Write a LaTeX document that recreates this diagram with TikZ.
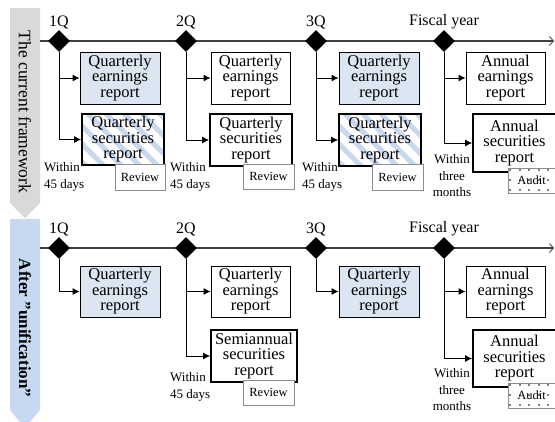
\documentclass[tikz,border=0pt]{standalone}
\usepackage{fontspec}
\setmainfont{Liberation Serif}
\usepackage{xcolor}
\usetikzlibrary{arrows.meta,shapes.geometric}

\definecolor{boxblue}{HTML}{DCE6F2}
\definecolor{stripeblue}{HTML}{C9D8EC}
\definecolor{bannerblue}{HTML}{C6D9F1}
\definecolor{bannergray}{HTML}{D9D9D9}

\tikzset{
  rep/.style={draw=black, line width=0.9pt, fill=white, align=center, inner sep=0pt,
    font=\fontsize{16.5}{15.5}\selectfont},
  repblue/.style={rep, fill=boxblue},
  secrep/.style={rep, line width=1.8pt},
  stripes/.style={path picture={
      \foreach \k in {0,...,8}
      \draw[stripeblue, line width=5pt] ([xshift=\k*18pt-66pt]path picture bounding box.north west) -- ++(80pt,-80pt);}},
  revbox/.style={draw=black!45, line width=0.8pt, fill=white, inner sep=0pt,
    font=\fontsize{12.5}{14}\selectfont},
  auditbox/.style={revbox, path picture={
      \foreach \i in {0,...,5}
      \foreach \j in {0,...,2}
      \fill[black!50] ([xshift=\i*9.5pt+1pt, yshift=-\j*10pt-1pt]path picture bounding box.north west) rectangle ++(2.4pt,-2.4pt);}},
  qmark/.style={diamond, fill=black, minimum size=22pt, inner sep=0pt},
  qlabel/.style={font=\fontsize{16}{18}\selectfont, inner sep=1pt},
  note/.style={font=\fontsize{13}{16.5}\selectfont, inner sep=0pt},
  branch/.style={-{Latex[length=7pt,width=7pt]}, line width=0.9pt},
  tline/.style={draw=black!75, line width=1.5pt, -{Straight Barb[length=4pt,width=9pt,line width=0.8pt]}},
}

\begin{document}
\begin{tikzpicture}[x=1pt, y=-1pt]
  \clip (0,0) rectangle (555,421);
  \fill[white] (0,0) rectangle (555,421);

  % banners
  \fill[bannergray] (10,8) -- (40,8) -- (40,203) -- (25,218) -- (10,203) -- cycle;
  \fill[bannerblue] (10,219) -- (40,219) -- (40,410) -- (25,428) -- (10,410) -- cycle;
  \node[rotate=-90, font=\fontsize{17.5}{20}\selectfont, inner sep=0pt] (bt) at (25,112) {The current framework};
  \node[rotate=-90, font=\fontsize{17}{20}\selectfont\bfseries, inner sep=0pt] (bb) at (25,328) {After \symbol{"22}unification\symbol{"22}};

  % ---------- the current framework ----------
  \coordinate (t0) at (40,41);
  \coordinate (t1) at (554,41);
  \draw[tline] (t0) -- (t1);
  \node[qmark, label={[qlabel]above:1Q}] (d1) at (59,41) {};
  \node[qmark, label={[qlabel]above:2Q}] (d2) at (186,41) {};
  \node[qmark, label={[qlabel]above:3Q}] (d3) at (316,41) {};
  \node[qmark, label={[qlabel]above:Fiscal year}] (d4) at (444,41) {};

  \node[repblue, minimum width=80pt, minimum height=52pt] (e1) at (120,78) {Quarterly\\earnings\\report};
  \node[secrep, stripes, minimum width=82pt, minimum height=51pt] (s1) at (123,139.5) {Quarterly\\securities\\report};
  \node[revbox, minimum width=50pt, minimum height=26pt] (r1) at (140,177) {Review};

  \node[rep, minimum width=79pt, minimum height=52pt] (e2) at (250.5,78) {Quarterly\\earnings\\report};
  \node[secrep, minimum width=82pt, minimum height=52pt] (s2) at (251,140) {Quarterly\\securities\\report};
  \node[revbox, minimum width=51pt, minimum height=25pt] (r2) at (268.5,176.5) {Review};

  \node[repblue, minimum width=80pt, minimum height=52pt] (e3) at (379,78) {Quarterly\\earnings\\report};
  \node[secrep, stripes, minimum width=82pt, minimum height=52pt] (s3) at (380,140) {Quarterly\\securities\\report};
  \node[revbox, minimum width=51pt, minimum height=26pt] (r3) at (397.5,177) {Review};

  \node[rep, minimum width=79pt, minimum height=52pt] (e4) at (505.5,78) {Annual\\earnings\\report};
  \node[secrep, minimum width=83pt, minimum height=58pt] (s4) at (514.5,143) {Annual\\securities\\report};
  \node[auditbox, minimum width=47pt, minimum height=25pt] (a4) at (531.5,180.5) {Audit};

  \foreach \q in {1,2,3,4}{
    \draw[branch] (d\q.south) |- (e\q.west);
    \draw[branch] (d\q.south) |- (s\q.west);
  }

  \node[note, anchor=west, align=left] (w1) at (44,177) {Within\\45 days};
  \node[note, anchor=west, align=left] (w2) at (170,177) {Within\\45 days};
  \node[note, anchor=west, align=left] (w3) at (302,177) {Within\\45 days};
  \node[note, align=center] (w4) at (452,176) {Within\\three\\months};

  % ---------- after unification ----------
  \coordinate (u0) at (40,248);
  \coordinate (u1) at (554,248);
  \draw[tline] (u0) -- (u1);
  \node[qmark, label={[qlabel]above:1Q}] (f1) at (59,248) {};
  \node[qmark, label={[qlabel]above:2Q}] (f2) at (186,248) {};
  \node[qmark, label={[qlabel]above:3Q}] (f3) at (316,248) {};
  \node[qmark, label={[qlabel]above:Fiscal year}] (f4) at (444,248) {};

  \node[repblue, minimum width=80pt, minimum height=51pt] (E1) at (120,291.5) {Quarterly\\earnings\\report};
  \node[rep, minimum width=79pt, minimum height=51pt] (E2) at (250.5,291.5) {Quarterly\\earnings\\report};
  \node[secrep, minimum width=86pt, minimum height=52pt] (S2) at (254,356) {Semiannual\\securities\\report};
  \node[revbox, minimum width=51pt, minimum height=25pt] (R2) at (268.5,392.5) {Review};
  \node[repblue, minimum width=80pt, minimum height=51pt] (E3) at (379,291.5) {Quarterly\\earnings\\report};
  \node[rep, minimum width=79pt, minimum height=51pt] (E4) at (505.5,291.5) {Annual\\earnings\\report};
  \node[secrep, minimum width=83pt, minimum height=57pt] (S4) at (514.5,358.5) {Annual\\securities\\report};
  \node[auditbox, minimum width=47pt, minimum height=25pt] (A4) at (531.5,395.5) {Audit};

  \foreach \q in {1,2,3,4}
    \draw[branch] (f\q.south) |- (E\q.west);
  \draw[branch] (f2.south) |- (S2.west);
  \draw[branch] (f4.south) |- (S4.west);

  \node[note, anchor=west, align=left] (W2) at (170,387) {Within\\45 days};
  \node[note, align=center] (W4) at (452,390) {Within\\three\\months};
\end{tikzpicture}
\end{document}
